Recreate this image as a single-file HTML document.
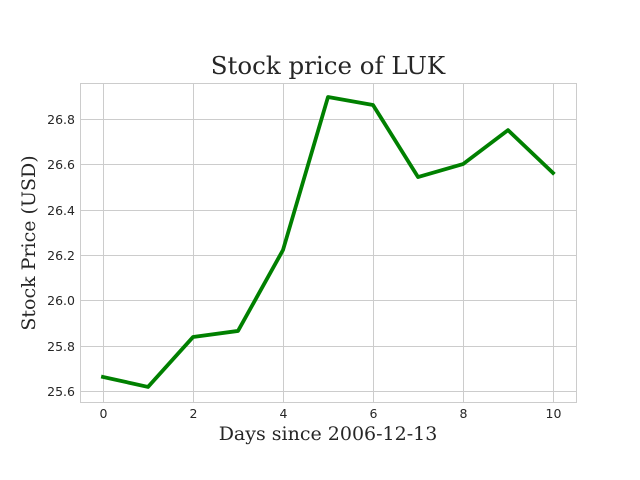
<!DOCTYPE html>
<html><head><meta charset="utf-8"><style>
html,body{margin:0;padding:0;background:#fff;width:640px;height:480px;overflow:hidden}
svg{display:block}
</style></head><body>
<svg id="chart" width="640" height="480" xmlns="http://www.w3.org/2000/svg">
<rect x="0" y="0" width="640" height="480" fill="#fff"/>
<g id="grid"></g>
<rect x="80.5" y="83.5" width="496" height="319" fill="none" stroke="#ccc" stroke-width="1"/>
<g id="ticks"></g>
<g id="series"></g>
<text x="328" y="74" text-anchor="middle" font-family="'DejaVu Serif','Liberation Serif',serif" font-size="24.5" fill="#262626">Stock price of LUK</text>
<text x="328" y="440" text-anchor="middle" font-family="'DejaVu Serif','Liberation Serif',serif" font-size="19" fill="#262626">Days since 2006-12-13</text>
<text transform="translate(35,243) rotate(-90)" text-anchor="middle" font-family="'DejaVu Serif','Liberation Serif',serif" font-size="19" fill="#262626">Stock Price (USD)</text>
</svg>
<script>
const days = [0,1,2,3,4,5,6,7,8,9,10];
const prices = [25.662,25.618,25.838,25.865,26.222,26.897,26.862,26.544,26.601,26.751,26.562];
const xTicks = [0,2,4,6,8,10];
const yTicks = [25.6,25.8,26.0,26.2,26.4,26.6,26.8];
const yTickLabels = ["25.6","25.8","26.0","26.2","26.4","26.6","26.8"];

const NS = "http://www.w3.org/2000/svg";
const L=80, R=576, T=83, B=402;
function xScale(v){ return 103 + v*45; }
function yScale(v){ return 391 - (v-25.6)*(272/1.2); }
function mk(tag, attrs, parent){ const e=document.createElementNS(NS,tag); for(const k in attrs) e.setAttribute(k,attrs[k]); parent.appendChild(e); return e; }
const grid=document.getElementById('grid'), ticks=document.getElementById('ticks'), series=document.getElementById('series');
const tf="'DejaVu Sans','Liberation Sans',sans-serif";
xTicks.forEach(t=>{
  const x=Math.round(xScale(t))+0.5;
  const g=mk('line',{x1:x,x2:x,y1:T,y2:B,stroke:'#ccc','stroke-width':1},grid);
  
  
  const tx=mk('text',{x:x,y:B+16,'text-anchor':'middle','font-family':tf,'font-size':12.5,fill:'#262626'},ticks);
  tx.textContent=String(t);
  
  
});
yTicks.forEach((t,i)=>{
  const y=Math.round(yScale(t))+0.5;
  const g=mk('line',{x1:L,x2:R,y1:y,y2:y,stroke:'#ccc','stroke-width':1},grid);
  
  
  const tx=mk('text',{x:L-5,y:y+4.5,'text-anchor':'end','font-family':tf,'font-size':12.5,fill:'#262626'},ticks);
  tx.textContent=yTickLabels[i];
  
  
});
const pts=days.map((d,i)=>xScale(d)+','+yScale(prices[i])).join(' ');
const line=mk('polyline',{points:pts,fill:'none',stroke:'#008000','stroke-width':3.8,'stroke-linejoin':'round','stroke-linecap':'square'},series);


</script>
</body></html>
